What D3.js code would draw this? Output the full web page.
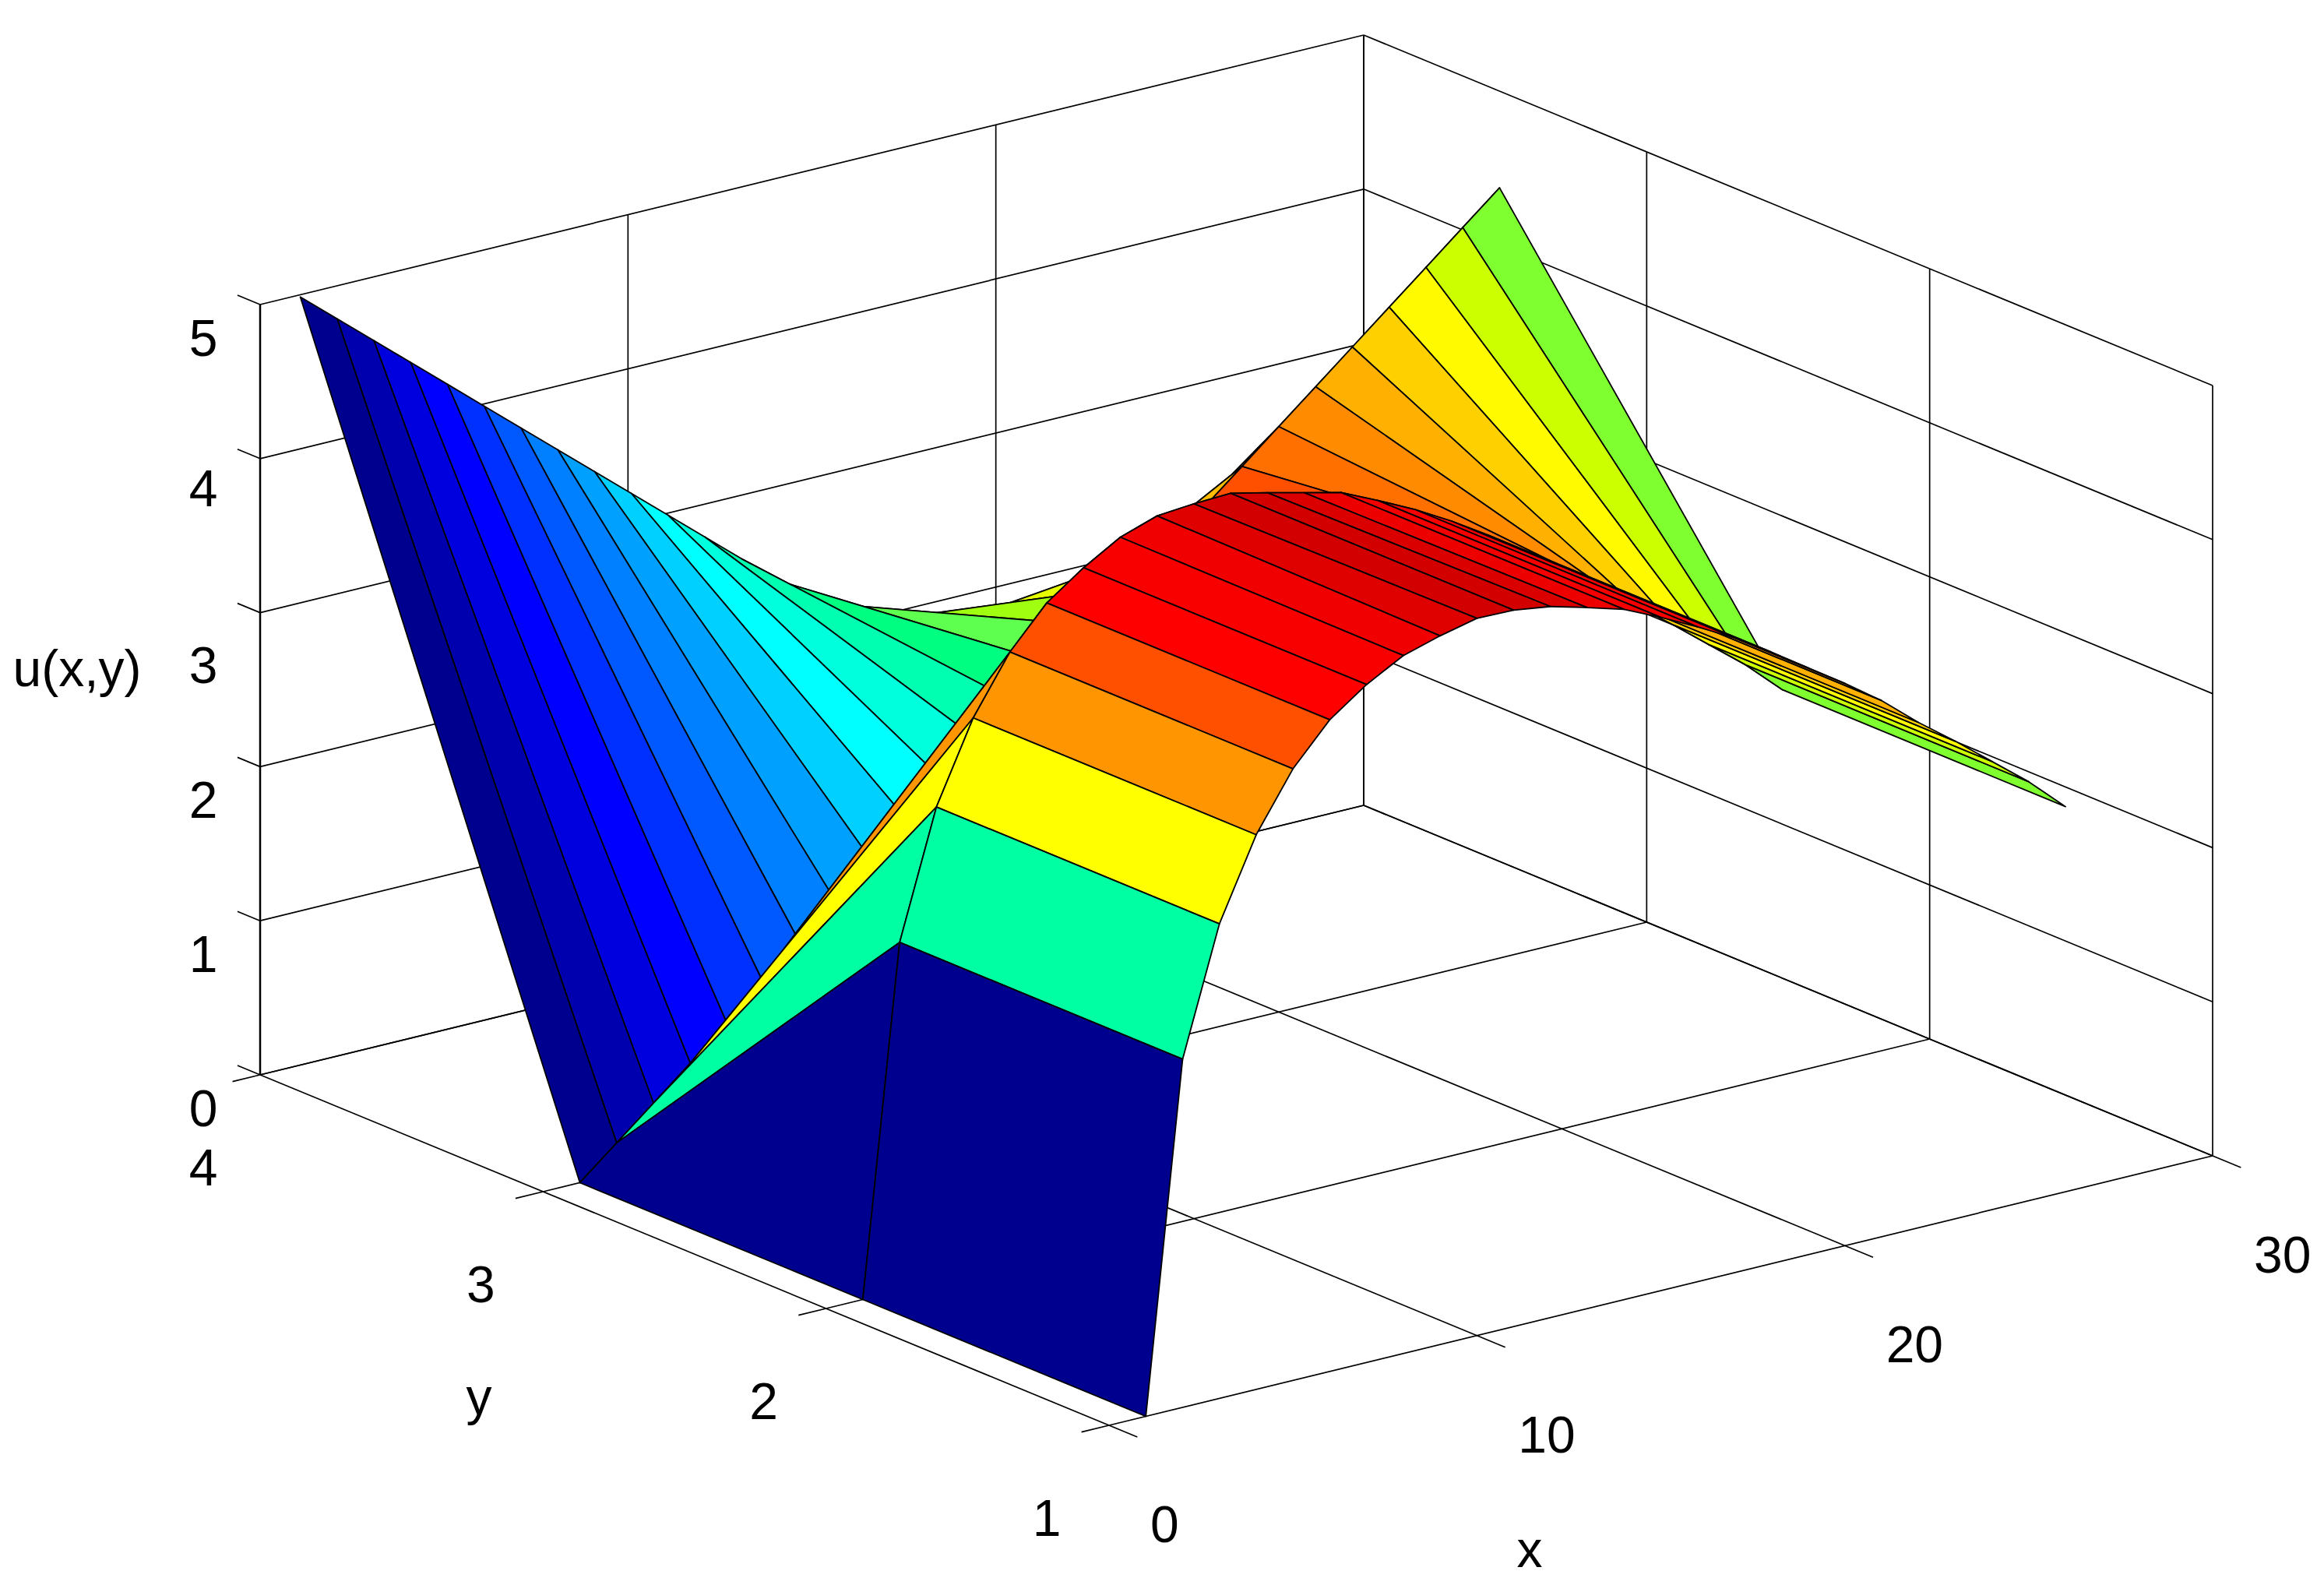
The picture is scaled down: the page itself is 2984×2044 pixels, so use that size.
<!DOCTYPE html>
<html>
<head>
<meta charset="utf-8">
<script src="https://cdn.jsdelivr.net/npm/d3@7"></script>
<style>
html,body{margin:0;padding:0;background:#fff;}
text{font-family:"Liberation Sans",Arial,sans-serif;fill:#000;}
</style>
</head>
<body>
<svg id="chart" width="2984" height="2044"></svg>
<script>
// ---- data ----
const xGrid = [1,2,3,4,5,6,7,8,9,10,11,12,13,14,15,16,17,18,19,20,21,22,23,24,25,26];
const yGrid = [1,2,3,3.988];
const uAtY1 = [0,2.26,3.08,3.60,3.97,4.23,4.40,4.53,4.60,4.655,4.65,4.615,4.55,4.48,4.37,4.25,4.12,3.97,3.81,3.65,3.48,3.28,3.10,2.91,2.72,2.50];
const uAtY2 = [0,2.26,3.08,3.60,3.97,4.23,4.40,4.54,4.62,4.64,4.65,4.595,4.537,4.48,4.37,4.254,4.12,3.97,3.81,3.65,3.48,3.28,3.10,2.91,2.72,2.50];
const uAtY3 = [0,0.2,0.4,0.6,0.8,1.0,1.2,1.4,1.6,1.8,2.0,2.2,2.4,2.6,2.8,3.0,3.2,3.4,3.6,3.8,4.0,4.2,4.4,4.6,4.8,5.0];
const uAtY4 = [5.0,4.8,4.6,4.4,4.2,4.0,3.8,3.6,3.4,3.2,3.0,2.8,2.6,2.4,2.2,2.0,1.8,1.6,1.4,1.2,1.0,0.8,0.6,0.4,0.2,0];
const xTicks = [0,10,20,30];
const yTicks = [1,2,3,4];
const zTicks = [0,1,2,3,4,5];
const colorStops = [0,0.2,0.4,0.6,0.8,1.0,1.2,1.4,1.6,1.8,2.0,2.2,2.4,2.6,2.72,2.8,2.91,3.0,3.08,3.28,3.48,3.62,3.81,3.97,4.12,4.23,4.48,4.54,4.6,5];
const colorRamp = ["#00008f","#0000af","#0000df","#0000ff","#0030ff","#0058ff","#0080ff","#00a0ff","#00d0ff","#00ffff","#00ffdc","#00ffb0","#00ff80","#5fff4f","#80ff30","#a0ff10","#ccff00","#e6ff00","#ffff00","#ffd000","#ffb000","#ff9000","#ff7000","#ff5000","#ff1000","#ff0000","#f50000","#ef0000","#df0000","#800000"];

// ---- oblique 3D projection built from linear scales ----
const xPx = d3.scaleLinear([0,30],[0,1417]);
const xPy = d3.scaleLinear([0,30],[0,-346]);
const yPx = d3.scaleLinear([1,4],[1424,334]);
const yPy = d3.scaleLinear([1,4],[1830,1380]);
const zPy = d3.scaleLinear([0,5],[0,-989]);
const color = d3.scaleLinear(colorStops,colorRamp);
const project = (x,y,z) => [xPx(x)+yPx(y), xPy(x)+yPy(y)+zPy(z)];
const xMin=0,xMax=30,yMin=1,yMax=4,zMin=0,zMax=5;

const svg = d3.select("#chart");
const frame = svg.append("g").attr("stroke","#000").attr("stroke-width",1.7).attr("fill","none");
const seg = (a,b,w) => frame.append("path")
  .attr("d",d3.line()([project(...a),project(...b)]))
  .attr("stroke-width",w||1.7);

// floor grid
xTicks.forEach(x=>{ seg([x,yMin,0],[x,yMax,0]); seg([x,yMin,0],[x,yMin-0.1,0]); });
yTicks.forEach(y=>{ seg([xMin,y,0],[xMax,y,0]); seg([xMin,y,0],[xMin-0.75,y,0]); });
// wall y = yMax
xTicks.forEach(x=> seg([x,yMax,zMin],[x,yMax,zMax], x===xMin?2.5:1.7));
zTicks.forEach(z=>{ seg([xMin,yMax,z],[xMax,yMax,z]); seg([xMin,yMax,z],[xMin,yMax+0.08,z]); });
// wall x = xMax
yTicks.forEach(y=> seg([xMax,y,zMin],[xMax,y,zMax]));
zTicks.forEach(z=> seg([xMax,yMin,z],[xMax,yMax,z]));

// surface, painted back to front (height field seen from low x, low y)
const U = [uAtY1,uAtY2,uAtY3,uAtY4];
const cells = [];
for(let i=xGrid.length-2;i>=0;i--){
  for(let j=yGrid.length-2;j>=0;j--){
    cells.push({i,j});
  }
}
svg.append("g").selectAll("path").data(cells).join("path")
  .attr("d",c=>{
    const p=[[c.i,c.j],[c.i+1,c.j],[c.i+1,c.j+1],[c.i,c.j+1]]
      .map(([a,b])=>project(xGrid[a],yGrid[b],U[b][a]));
    return d3.line()(p)+"Z";
  })
  .attr("fill",c=>color(U[c.j][c.i]))
  .attr("stroke","#000")
  .attr("stroke-width",1.8)
  .attr("stroke-linejoin","round");

// tick labels
const fs = 66;
const labels = svg.append("g").attr("font-size",fs).attr("dominant-baseline","central");
const zNudge = {4:-5,3:24};
labels.selectAll(".z").data(zTicks).join("text").attr("class","z")
  .attr("text-anchor","middle")
  .attr("x",261)
  .attr("y",z=>project(xMin,yMax,z)[1]+43+(zNudge[z]||0))
  .text(d=>d);
labels.selectAll(".y").data(yTicks).join("text").attr("class","y")
  .attr("text-anchor","middle")
  .attr("x",y=>project(xMin,y,0)[0]-(y===4?73:80))
  .attr("y",y=>project(xMin,y,0)[1]+119)
  .text(d=>d);
labels.selectAll(".x").data(xTicks).join("text").attr("class","x")
  .attr("text-anchor","start")
  .attr("x",x=>project(x,yMin,0)[0]+53)
  .attr("y",x=>project(x,yMin,0)[1]+127)
  .text(d=>d);
// axis titles
labels.append("text").attr("x",99).attr("y",858).attr("text-anchor","middle").text("u(x,y)");
labels.append("text").attr("x",615).attr("y",1793).attr("text-anchor","middle").text("y");
labels.append("text").attr("x",1964).attr("y",1989).attr("text-anchor","middle").text("x");
</script>
</body>
</html>
